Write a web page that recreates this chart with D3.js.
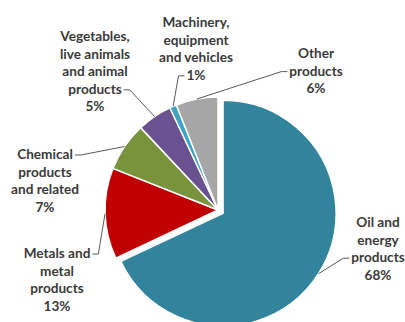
<!DOCTYPE html>
<html>
<head>
<meta charset="utf-8">
<script src="https://cdn.jsdelivr.net/npm/d3@7"></script>
<style>
  html, body { margin: 0; padding: 0; background: #fff; }
  svg { display: block; }
  text { font-family: Lato, "Open Sans", sans-serif; font-weight: 700; font-size: 13.6px; fill: #3a3a3a; }
</style>
</head>
<body>
<svg id="chart" width="405" height="322"></svg>
<script>
// Export structure by product group (share of total, %)
const categories = [
  "Oil and energy products",
  "Metals and metal products",
  "Chemical products and related",
  "Vegetables, live animals and animal products",
  "Machinery, equipment and vehicles",
  "Other products"
];
const shares = [68, 13, 7, 5, 1, 6];
const colors = ["#31849B", "#C00000", "#77933C", "#6A5290", "#3FA3C2", "#A6A6A6"];

// Wrapped label lines for each category
const labelLines = [
  ["Oil and", "energy", "products"],
  ["Metals and", "metal", "products"],
  ["Chemical", "products", "and related"],
  ["Vegetables,", "live animals", "and animal", "products"],
  ["Machinery,", "equipment", "and vehicles"],
  ["Other", "products"]
];

// Label block placement: [centre x, first line y], and the line the leader leaves from
const labelPos = [
  { x: 378, y: 227, anchorLine: 2, side: "left" },
  { x: 57,  y: 258, anchorLine: 0, side: "right" },
  { x: 45,  y: 159, anchorLine: 0, side: "right" },
  { x: 95,  y: 41,  anchorLine: 3, side: "right" },
  { x: 196, y: 27,  anchorLine: 3, side: "left" },
  { x: 316, y: 58,  anchorLine: 1, side: "left" }
];

const cx = 218, cy = 210, R = 113, explode = 6, lineH = 17.6;

const svg = d3.select("#chart");
const pie = d3.pie().sort(null).value(d => d)(shares);
const arc = d3.arc().innerRadius(0).outerRadius(R);

const offsetOf = (d, i) => {
  if (i !== 0) return [0, 0];
  const a = (d.startAngle + d.endAngle) / 2;
  return [Math.sin(a) * explode, -Math.cos(a) * explode];
};

const g = svg.append("g").attr("transform", `translate(${cx},${cy})`);

g.selectAll("path.slice")
  .data(pie)
  .join("path")
  .attr("class", "slice")
  .attr("transform", (d, i) => { const o = offsetOf(d, i); return `translate(${o[0]},${o[1]})`; })
  .attr("d", arc)
  .attr("fill", (d, i) => colors[i])
  .attr("stroke", "#fff")
  .attr("stroke-width", 1.5)
  .attr("stroke-linejoin", "round");

// Labels
const labels = svg.append("g");
pie.forEach((d, i) => {
  const p = labelPos[i];
  const lines = labelLines[i].concat([shares[i] + "%"]);
  const t = labels.append("text").attr("text-anchor", "middle");
  lines.forEach((ln, k) => {
    t.append("tspan").attr("x", p.x).attr("y", p.y + k * lineH).text(ln);
  });
});

// Leader lines: from label edge to slice midpoint on the rim
const measure = svg.append("text").attr("visibility", "hidden");
pie.forEach((d, i) => {
  const p = labelPos[i];
  const lines = labelLines[i].concat([shares[i] + "%"]);
  measure.text(lines[p.anchorLine]);
  const w = measure.node().getComputedTextLength();
  const ly = p.y + p.anchorLine * lineH - 4;
  const lx = p.side === "left" ? p.x - w / 2 - 2 : p.x + w / 2 + 2;
  const kx = p.side === "left" ? lx - 6 : lx + 6;
  const a = (d.startAngle + d.endAngle) / 2;
  const o = offsetOf(d, i);
  const ex = cx + o[0] + Math.sin(a) * R;
  const ey = cy + o[1] - Math.cos(a) * R;
  svg.append("path")
    .attr("d", d3.line()([[lx, ly], [kx, ly], [ex, ey]]))
    .attr("fill", "none")
    .attr("stroke", "#595959")
    .attr("stroke-width", 1);
});
measure.remove();
</script>
</body>
</html>
